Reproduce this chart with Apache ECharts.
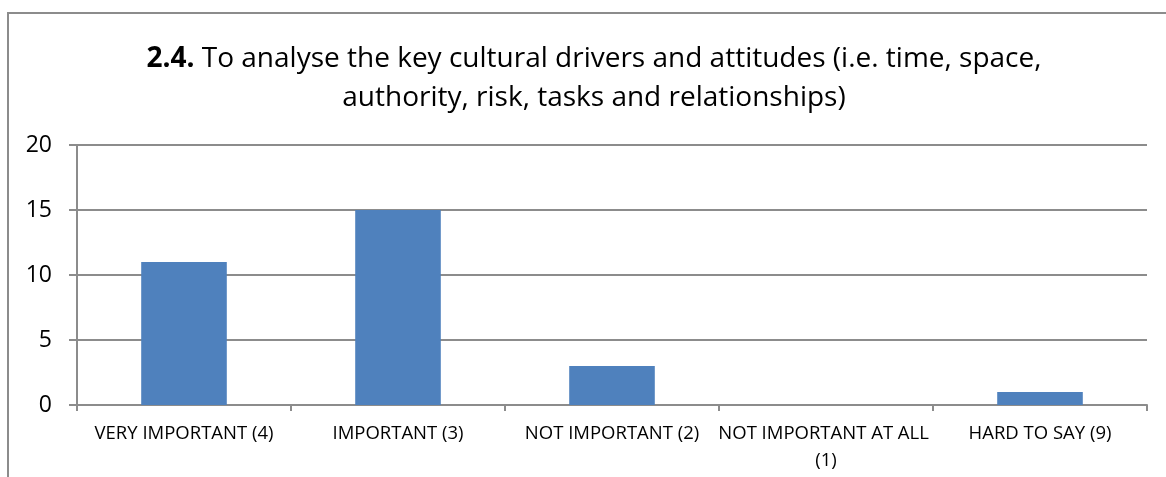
<!DOCTYPE html>
<html>
<head>
<meta charset="utf-8">
<script src="https://cdn.jsdelivr.net/npm/echarts@6/dist/echarts.min.js"></script>
<style>
  html, body { margin: 0; padding: 0; background: #fff; }
  #chart { width: 1166px; height: 477px; }
</style>
</head>
<body>
<div id="chart"></div>
<script>
// Survey answers for question 2.4
const categories = ['VERY IMPORTANT (4)', 'IMPORTANT (3)', 'NOT IMPORTANT (2)', 'NOT IMPORTANT AT ALL (1)', 'HARD TO SAY (9)'];
const counts = [11, 15, 3, 0, 1];
const titleNumber = '2.4.';
const titleLine1 = ' To analyse the key cultural drivers and attitudes (i.e. time, space,';
const titleLine2 = 'authority, risk, tasks and relationships)';

const FONT = '"Open Sans", "Noto Sans", sans-serif';
const GRID_GRAY = '#8c8c8c';

const chart = echarts.init(document.getElementById('chart'), null, { renderer: 'canvas' });
chart.setOption({
  backgroundColor: '#fff',
  animation: false,
  graphic: [{
    type: 'rect',
    shape: { x: 8, y: 13, width: 1200, height: 520 },
    style: { fill: 'none', stroke: '#8c8c8c', lineWidth: 2 },
    silent: true
  }],
  title: {
    text: '{b|' + titleNumber + '}{r|' + titleLine1 + '}\n{r|' + titleLine2 + '}',
    left: 589,
    textAlign: 'center',
    top: 35,
    textStyle: {
      fontWeight: 'normal',
      rich: {
        b: { fontFamily: FONT, fontSize: 28, fontWeight: 'bold', color: '#000', lineHeight: 39 },
        r: { fontFamily: FONT, fontSize: 28, fontWeight: 'normal', color: '#000', lineHeight: 39 }
      }
    }
  },
  grid: { left: 77, right: 19, top: 145, bottom: 72, containLabel: false },
  xAxis: {
    type: 'category',
    data: categories,
    axisLine: { lineStyle: { color: GRID_GRAY, width: 2 } },
    axisTick: { show: true, length: 6, alignWithLabel: false, lineStyle: { color: GRID_GRAY, width: 2 } },
    axisLabel: {
      interval: 0,
      color: '#000',
      fontFamily: FONT,
      fontSize: 18.5,
      margin: 15,
      width: 222,
      overflow: 'break',
      lineHeight: 27
    }
  },
  yAxis: {
    type: 'value',
    min: 0,
    max: 20,
    interval: 5,
    axisLine: { show: true, lineStyle: { color: GRID_GRAY, width: 2 } },
    axisTick: { show: true, length: 8, lineStyle: { color: GRID_GRAY, width: 2 } },
    splitLine: { show: true, lineStyle: { color: GRID_GRAY, width: 2 } },
    axisLabel: { color: '#000', fontFamily: FONT, fontSize: 23, margin: 25 }
  },
  series: [{
    type: 'bar',
    data: counts,
    barWidth: '40%',
    itemStyle: { color: '#4f81bd' }
  }]
});
</script>
</body>
</html>
